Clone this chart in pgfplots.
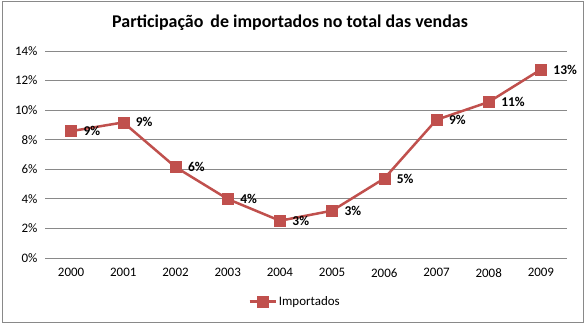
\documentclass[border=0pt]{standalone}
\usepackage{pgfplots}
\pgfplotsset{compat=1.18}
\usepackage{fontspec}
\setmainfont{Carlito}
\definecolor{exred}{HTML}{C0504D}
\definecolor{gridc}{HTML}{898989}
\begin{document}
\begin{tikzpicture}[x=1bp,y=1bp]
\useasboundingbox (0,0) rectangle (585,325);
\draw[color=gridc, line width=1bp] (2,3) rectangle (583,323);
\node[font=\fontsize{18}{21}\selectfont\bfseries] at (290,302) {Participação\, de importados no total das vendas};
\begin{axis}[
  at={(45bp,67bp)}, anchor=south west,
  scale only axis, width=522bp, height=207bp,
  xmin=-0.5, xmax=9.5, ymin=0, ymax=14,
  axis line style={draw=none},
  ymajorgrids, grid style={color=gridc, line width=0.8bp},
  xtick=data, xticklabels={2000,2001,2002,2003,2004,2005,2006,2007,2008,2009},
  ytick={0,2,4,6,8,10,12,14},
  yticklabels={0\%,2\%,4\%,6\%,8\%,10\%,12\%,14\%},
  tick style={draw=none},
  ticklabel style={font=\fontsize{13}{15}\selectfont},
  /pgf/number format/assume math mode=true,
  xticklabel style={yshift=-7bp},
  yticklabel style={xshift=-4bp},
  clip=false,
  legend style={draw=none, at={(0.479,-0.21)}, anchor=center, font=\fontsize{13}{15}\selectfont},
  legend image code/.code={\draw[mark repeat=2,mark phase=2,#1] plot coordinates {(0bp,0bp) (13bp,0bp) (26bp,0bp)};},
]
\addplot[color=exred, line width=2.5bp, mark=square*, mark size=5.5bp,
  mark options={fill=exred, line width=0.5bp},
  point meta=explicit symbolic,
  nodes near coords,
  nodes near coords style={anchor=west, xshift=9bp, font=\fontsize{13.5}{15}\selectfont\bfseries, text=black},
] table[meta=lab] {
x y lab
0 8.58 9\%
1 9.17 9\%
2 6.15 6\%
3 3.99 4\%
4 2.52 3\%
5 3.20 3\%
6 5.38 5\%
7 9.35 9\%
8 10.55 11\%
9 12.75 13\%
};
\addlegendentry{Importados}
\end{axis}
\end{tikzpicture}
\end{document}
